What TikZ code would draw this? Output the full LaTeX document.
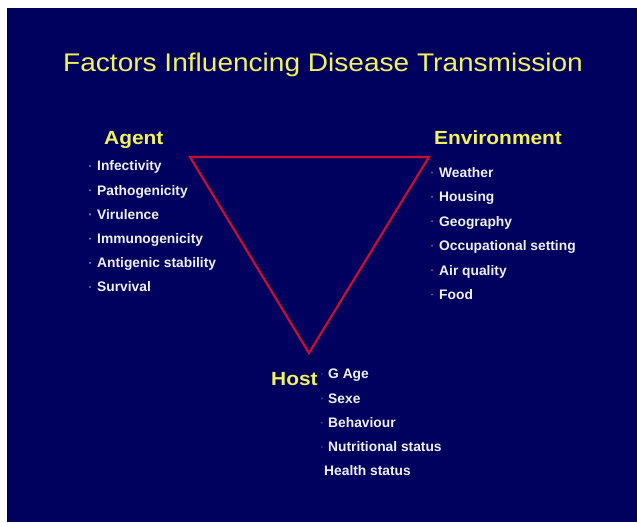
\documentclass[tikz,border=0pt]{standalone}
\usepackage{fontspec}
\setmainfont{Liberation Sans}
\newfontfamily\wideface[FakeStretch=1.1]{Liberation Sans}
\definecolor{slideblue}{HTML}{00005F}
\definecolor{headyellow}{HTML}{F2F25A}
\definecolor{trired}{HTML}{C8102E}
\definecolor{agdot}{HTML}{7777A0}
\definecolor{envdot}{HTML}{8A3C9A}
\definecolor{hodot}{HTML}{2233A0}
\begin{document}
\begin{tikzpicture}[x=1pt, y=-1pt,
    head/.style={anchor=west, inner sep=0pt, text=headyellow, font=\wideface\fontsize{19}{19}\bfseries, text height=13.6pt, text depth=0pt},
    item/.style={anchor=west, inner sep=0pt, text=white!94!black, font=\fontsize{13.8}{14}\bfseries, text height=9.9pt, text depth=0pt}]
    \useasboundingbox (0, 0) rectangle (637, 522);
    \fill[white] (0, 0) rectangle (637, 522);
    \fill[slideblue] (7, 8) rectangle (637, 522);
    \node[anchor=west, inner sep=0pt, text=headyellow, font=\wideface\fontsize{25.5}{26}\selectfont, text height=18.3pt, text depth=0pt] (title) at (63, 62) {Factors Influencing Disease Transmission};
    % triangle
    \coordinate (tl) at (190, 157);
    \coordinate (tr) at (429, 157);
    \coordinate (bt) at (309, 353);
    \draw[trired, line width=2.2pt, line join=miter] (tl) -- (tr) -- (bt) -- cycle;
    \node[head] (agent) at (104, 138) {Agent};
    \node[head] (environment) at (434, 138) {Environment};
    \node[head] (host) at (271, 379) {Host};
    \foreach \t [count=\i] in {Infectivity, Pathogenicity, Virulence, Immunogenicity, Antigenic stability, Survival} {
        \fill[agdot] (90, 166+24.2*\i-24.2) circle (1.2);
        \node[item] (ag\i) at (97, 166+24.2*\i-24.2) {\t};
    }
    \foreach \t [count=\i] in {Weather, Housing, Geography, Occupational setting, Air quality, Food} {
        \fill[envdot] (432, 172.5+24.4*\i-24.4) circle (1.2);
        \node[item] (env\i) at (439, 172.5+24.4*\i-24.4) {\t};
    }
    \foreach \t [count=\i] in {G Age, Sexe, Behaviour, Nutritional status} {
        \fill[hodot] (322, 374+24.3*\i-24.3) circle (1.2);
        \node[item] (ho\i) at (328, 374+24.3*\i-24.3) {\t};
    }
    \node[item] (ho5) at (324, 471) {Health status};
\end{tikzpicture}
\end{document}
